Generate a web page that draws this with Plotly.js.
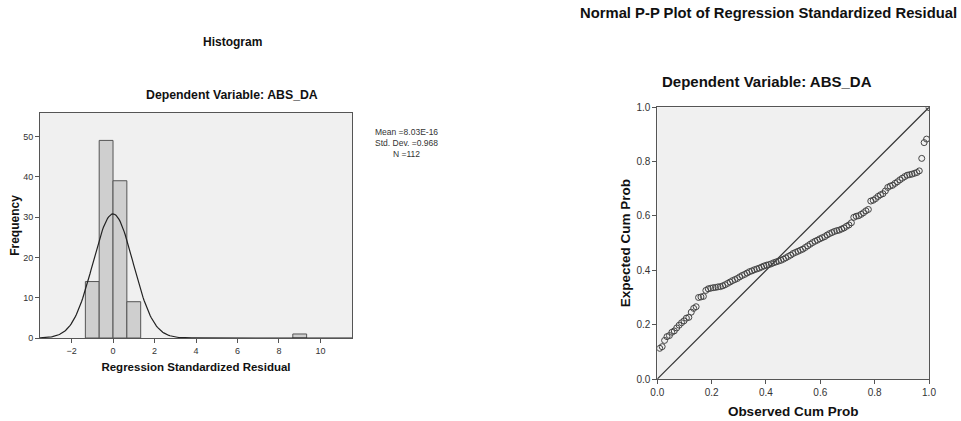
<!DOCTYPE html>
<html>
<head>
<meta charset="utf-8">
<script src="https://cdn.plot.ly/plotly-3.0.1.min.js"></script>
<style>html,body{margin:0;padding:0;background:#fff;}#chart{width:961px;height:421px;}</style>
</head>
<body>
<div id="chart"></div>
<script>
// ---- Histogram data ----
const binCenters = [-1.0, -0.3333, 0.3333, 1.0, 9.0];
const binCounts = [14, 49, 39, 9, 1];
const binWidth = 0.6667;
const residMean = 8.03e-16;
const residSD = 0.968;
const residN = 112;
const histXTicks = [-2, 0, 2, 4, 6, 8, 10];
const histYTicks = [0, 10, 20, 30, 40, 50];

// ---- P-P plot data ----
const observedCumProb = [
  0.0089,0.0179,0.0268,0.0357,0.0446,0.0536,0.0625,0.0714,0.0804,0.0893,
  0.0982,0.1071,0.1161,0.1250,0.1339,0.1429,0.1518,0.1607,0.1696,0.1786,
  0.1875,0.1964,0.2054,0.2143,0.2232,0.2321,0.2411,0.2500,0.2589,0.2679,
  0.2768,0.2857,0.2946,0.3036,0.3125,0.3214,0.3304,0.3393,0.3482,0.3571,
  0.3661,0.3750,0.3839,0.3929,0.4018,0.4107,0.4196,0.4286,0.4375,0.4464,
  0.4554,0.4643,0.4732,0.4821,0.4911,0.5000,0.5089,0.5179,0.5268,0.5357,
  0.5446,0.5536,0.5625,0.5714,0.5804,0.5893,0.5982,0.6071,0.6161,0.6250,
  0.6339,0.6429,0.6518,0.6607,0.6696,0.6786,0.6875,0.6964,0.7054,0.7143,
  0.7232,0.7321,0.7411,0.7500,0.7589,0.7679,0.7768,0.7857,0.7946,0.8036,
  0.8125,0.8214,0.8304,0.8393,0.8482,0.8571,0.8661,0.8750,0.8839,0.8929,
  0.9018,0.9107,0.9196,0.9286,0.9375,0.9464,0.9554,0.9643,0.9732,0.9821,
  0.9911,1.0000
];
const expectedCumProb = [
  0.113,0.119,0.142,0.156,0.160,0.172,0.177,0.188,0.198,0.207,
  0.214,0.224,0.227,0.246,0.260,0.266,0.300,0.302,0.304,0.326,
  0.332,0.334,0.336,0.337,0.339,0.340,0.343,0.347,0.352,0.357,
  0.362,0.366,0.370,0.376,0.381,0.385,0.390,0.395,0.398,0.402,
  0.405,0.408,0.412,0.416,0.419,0.421,0.424,0.428,0.431,0.434,
  0.437,0.441,0.446,0.451,0.456,0.462,0.466,0.470,0.474,0.478,
  0.484,0.490,0.496,0.502,0.507,0.511,0.516,0.520,0.524,0.530,
  0.535,0.539,0.543,0.546,0.548,0.552,0.556,0.562,0.567,0.575,
  0.595,0.599,0.601,0.606,0.612,0.619,0.624,0.655,0.658,0.664,
  0.672,0.678,0.682,0.692,0.705,0.710,0.713,0.720,0.726,0.733,
  0.739,0.745,0.750,0.752,0.754,0.757,0.760,0.766,0.812,0.870,
  0.883,0.999
];
const ppTicks = [0, 0.2, 0.4, 0.6, 0.8, 1.0];

// normal curve fitted from the reported mean / sd / N
const histRange = [-3.52, 11.52];
const curveX = [], curveY = [];
for (let k = 0; k <= 300; k++) {
  const x = histRange[0] + (histRange[1] - histRange[0]) * k / 300;
  curveX.push(x);
  const z = (x - residMean) / residSD;
  curveY.push(residN * binWidth * Math.exp(-0.5 * z * z) / (residSD * Math.sqrt(2 * Math.PI)));
}

const W = 961, H = 421;
const px = v => v / W;
const py = v => 1 - v / H;
const FONT = 'Liberation Sans, Arial, sans-serif';
const frame = '#555555';

const traces = [
  {type: 'bar', x: binCenters, y: binCounts, width: binWidth, xaxis: 'x', yaxis: 'y',
   marker: {color: '#cfcfcf', line: {color: '#555555', width: 1}}, hoverinfo: 'x+y'},
  {type: 'scatter', mode: 'lines', x: curveX, y: curveY, xaxis: 'x', yaxis: 'y',
   line: {color: '#222222', width: 1.2}, hoverinfo: 'skip'},
  {type: 'scatter', mode: 'lines', x: [0, 1], y: [0, 1], xaxis: 'x2', yaxis: 'y2',
   line: {color: '#333333', width: 1.2}, hoverinfo: 'skip'},
  {type: 'scatter', mode: 'markers', x: observedCumProb, y: expectedCumProb, xaxis: 'x2', yaxis: 'y2',
   marker: {symbol: 'circle-open', size: 6, color: '#444444', line: {width: 1, color: '#444444'}}}
];

const axisCommon = {
  showgrid: false, zeroline: false, showline: true, mirror: true,
  linecolor: frame, linewidth: 1, ticks: 'outside', ticklen: 4, tickcolor: frame,
  tickfont: {family: FONT, size: 9, color: '#333'}
};

const layout = {
  width: W, height: H,
  margin: {l: 0, r: 0, t: 0, b: 0},
  paper_bgcolor: '#ffffff', plot_bgcolor: '#f0f0f0',
  showlegend: false, bargap: 0,
  font: {family: FONT, color: '#111'},
  xaxis: Object.assign({}, axisCommon, {
    domain: [px(40), px(352)], range: histRange, tickvals: histXTicks, anchor: 'y',
    title: {text: '<b>Regression Standardized Residual</b>', font: {family: FONT, size: 11.5, color: '#111'}, standoff: 8}
  }),
  yaxis: Object.assign({}, axisCommon, {
    domain: [py(338), py(113)], range: [0, 55.8], tickvals: histYTicks, anchor: 'x',
    title: {text: '<b>Frequency</b>', font: {family: FONT, size: 12, color: '#111'}, standoff: 0}
  }),
  xaxis2: Object.assign({}, axisCommon, {
    domain: [px(657.3), px(929)], range: [0, 1], tickvals: ppTicks, tickformat: '.1f', anchor: 'y2',
    tickfont: {family: FONT, size: 10, color: '#333'},
    title: {text: '<b>Observed Cum Prob</b>', font: {family: FONT, size: 13.5, color: '#111'}, standoff: 9}
  }),
  yaxis2: Object.assign({}, axisCommon, {
    domain: [py(379), py(107.3)], range: [0, 1], tickvals: ppTicks, tickformat: '.1f', anchor: 'x2',
    tickfont: {family: FONT, size: 10, color: '#333'},
    title: {text: '<b>Expected Cum Prob</b>', font: {family: FONT, size: 13.5, color: '#111'}, standoff: 2}
  }),
  annotations: [
    {text: '<b>Histogram</b>', x: px(232), y: py(42), xref: 'paper', yref: 'paper',
     showarrow: false, font: {family: FONT, size: 12, color: '#111'}, xanchor: 'center', yanchor: 'middle'},
    {text: '<b>Dependent Variable: ABS_DA</b>', x: px(232), y: py(95), xref: 'paper', yref: 'paper',
     showarrow: false, font: {family: FONT, size: 12.3, color: '#111'}, xanchor: 'center', yanchor: 'middle'},
    {text: 'Mean =8.03E-16<br>Std. Dev. =0.968<br>N =112', x: px(406), y: py(143), xref: 'paper', yref: 'paper',
     showarrow: false, font: {family: FONT, size: 8.5, color: '#333'}, xanchor: 'center', yanchor: 'middle', align: 'center'},
    {text: '<b>Normal P-P Plot of Regression Standardized Residual</b>', x: px(768), y: py(13), xref: 'paper', yref: 'paper',
     showarrow: false, font: {family: FONT, size: 14.8, color: '#111'}, xanchor: 'center', yanchor: 'middle'},
    {text: '<b>Dependent Variable: ABS_DA</b>', x: px(767), y: py(82), xref: 'paper', yref: 'paper',
     showarrow: false, font: {family: FONT, size: 15, color: '#111'}, xanchor: 'center', yanchor: 'middle'}
  ]
};

Plotly.newPlot('chart', traces, layout, {displayModeBar: false, staticPlot: true});
</script>
</body>
</html>
